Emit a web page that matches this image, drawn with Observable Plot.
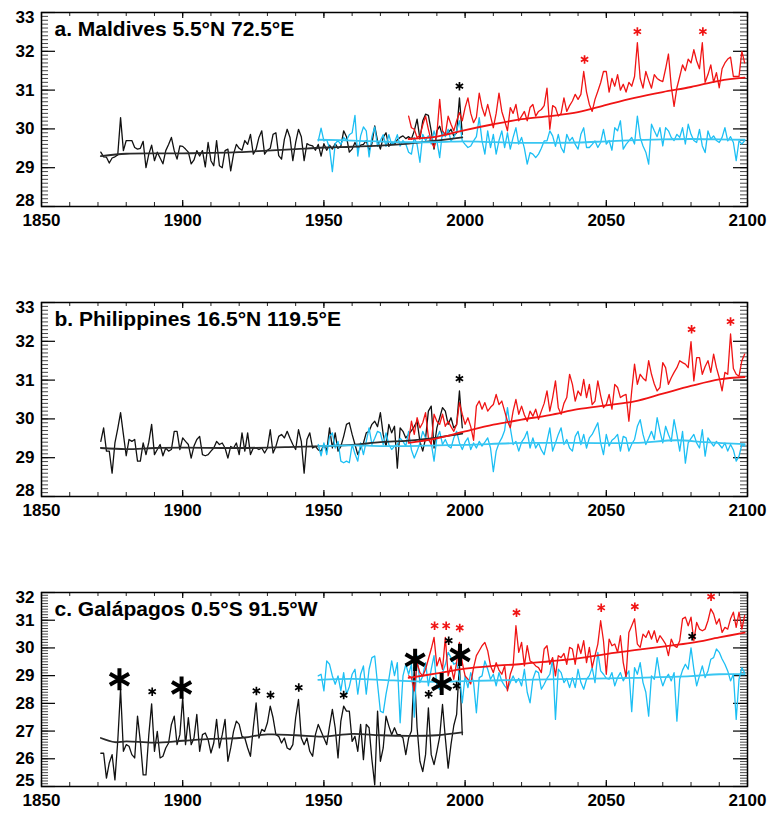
<!DOCTYPE html>
<html><head><meta charset="utf-8">
<script src="https://cdn.jsdelivr.net/npm/d3@7"></script>
<script src="https://cdn.jsdelivr.net/npm/@observablehq/plot@0.6"></script>
<style>
body{margin:0;background:#fff;}
#chart{width:779px;}
#chart svg{display:block;}
</style></head><body><div id="chart"></div>
<script>
// ---------- Panel a: Maldives ----------
const aTitle = "a. Maldives 5.5°N 72.5°E";
const aBlackStart = 1870;
const aBlack = [
 null,29.40,29.28,29.27,29.12,29.25,29.28,29.33,30.29,29.44,
 29.70,29.70,29.70,29.52,29.48,29.50,29.68,29.00,29.35,29.58,
 29.18,29.40,29.25,29.10,29.44,29.60,29.78,29.44,29.22,29.56,
 29.55,29.48,29.40,29.10,29.20,29.44,29.30,29.44,29.02,29.65,
 29.18,29.05,29.70,29.05,29.00,29.44,29.48,28.92,29.35,29.60,
 29.50,29.45,29.70,29.60,29.86,29.35,29.48,29.78,29.95,29.35,
 29.45,29.50,29.86,29.90,29.31,29.22,29.73,29.99,29.78,29.18,
 29.65,29.99,29.80,29.18,29.62,29.58,29.56,29.45,29.60,29.30,
 29.62,29.45,29.58,29.48,29.62,29.50,29.55,29.95,29.80,29.40,
 29.48,29.65,29.50,29.58,29.60,29.70,29.45,29.62,30.08,29.69,
 29.48,29.78,29.90,29.55,29.65,29.60,29.72,29.78,29.82,29.75,
 29.80,29.74,29.95,30.25,29.74,30.21,30.38,30.35,29.95,29.48,
 29.95,30.07,29.82,29.86,29.90,29.99,29.82,29.90,30.80,29.86];
const aCyanStart = 1940;
const aCyan = [
 null,null,null,null,null,null,null,null,29.69,30.02,
 29.69,29.72,29.50,28.90,29.62,29.70,29.60,29.78,29.70,29.85,
 29.90,30.35,29.30,29.82,30.05,29.95,29.28,29.80,30.05,29.55,
 29.70,29.85,29.55,29.85,29.60,29.65,29.85,29.56,29.70,29.61,
 29.40,29.35,29.78,29.60,29.14,29.86,29.70,29.82,29.61,29.95,
 29.69,29.26,29.95,29.80,29.99,29.69,29.78,29.95,30.21,29.69,
 29.60,29.52,29.56,29.69,29.80,30.29,29.69,29.35,29.95,29.52,
 29.86,29.35,29.70,29.95,29.52,29.90,29.48,29.78,30.03,29.61,
 29.78,29.50,29.09,29.39,29.35,29.26,29.35,29.50,29.69,29.69,
 29.95,29.82,29.55,29.86,29.52,29.39,29.86,29.69,29.78,29.60,
 29.48,29.86,30.03,29.52,29.52,29.60,29.69,29.52,29.65,29.99,
 29.61,29.70,29.45,30.03,29.95,30.21,29.48,29.60,29.69,29.78,
 29.61,30.33,29.78,29.56,29.40,29.09,30.12,29.95,29.80,30.03,
 29.56,30.03,29.95,29.78,29.70,29.86,29.78,30.03,29.61,30.12,
 29.86,29.70,29.65,29.99,29.56,29.39,29.95,29.74,29.82,29.70,
 29.65,29.78,30.03,29.69,29.80,29.65,29.18,29.69,29.61,29.70];
const aRedStart = 1980;
const aRed = [
 30.33,30.03,29.99,29.78,29.82,30.10,30.33,29.99,29.69,29.52,
 29.86,30.76,29.95,29.86,30.33,30.12,29.95,30.21,30.42,30.21,
 30.55,30.80,30.40,30.16,30.30,30.92,30.55,30.33,30.63,30.33,
 30.03,30.40,30.92,30.45,30.21,29.95,30.55,30.40,30.63,30.21,
 30.33,30.45,30.21,30.55,30.63,30.33,30.45,30.50,30.60,31.05,
 29.99,30.60,30.55,30.33,30.40,30.80,30.45,30.60,30.72,30.89,
 30.76,30.89,31.48,30.95,30.63,30.45,30.76,30.97,31.19,31.48,
 31.48,30.95,31.30,31.10,31.40,31.00,31.15,30.95,31.20,31.10,
 31.35,32.22,31.30,31.05,31.48,31.25,31.05,31.40,31.30,31.25,
 31.22,31.55,31.93,31.10,30.58,31.06,31.35,31.65,31.50,31.80,
 31.70,32.04,31.75,31.55,32.22,31.20,31.40,31.65,31.20,31.45,
 31.06,31.55,31.70,31.80,31.85,31.35,31.35,31.35,32.00,31.70];
const aBlackSmoothYears = [1871,1880,1890,1900,1910,1920,1930,1940,1950,1960,1970,1980,1990,1999];
const aBlackSmooth      = [29.30,29.36,29.37,29.37,29.38,29.40,29.44,29.48,29.52,29.54,29.57,29.62,29.70,29.78];
const aCyanSmoothYears = [1948,1960,1975,1990,2000,2010,2020,2030,2040,2050,2060,2070,2080,2090,2099];
const aCyanSmooth      = [29.72,29.70,29.66,29.66,29.68,29.66,29.64,29.64,29.65,29.68,29.71,29.73,29.74,29.73,29.72];
const aRedSmoothYears = [1980,1990,2000,2010,2020,2030,2040,2050,2060,2070,2080,2090,2099];
const aRedSmooth      = [29.74,29.80,29.97,30.12,30.25,30.33,30.43,30.62,30.80,30.95,31.08,31.24,31.32];
const aStarBlackYears = [1998];
const aStarBlackVals  = [31.10];
const aStarRedYears = [2042.3,2061,2084.2];
const aStarRedVals  = [31.79,32.51,32.51];

// ---------- Panel b: Philippines ----------
const bTitle = "b. Philippines 16.5°N 119.5°E";
const bBlackStart = 1870;
const bBlack = [
 null,29.42,29.77,29.17,29.17,28.60,29.38,29.75,30.16,29.60,
 29.05,29.47,29.42,29.47,28.91,28.91,29.38,29.08,29.40,29.86,
 29.08,29.21,29.34,29.05,29.25,29.17,29.21,29.68,29.68,29.21,
 29.51,29.42,29.34,28.99,29.30,29.47,29.55,29.08,29.05,29.08,
 29.17,29.25,29.42,29.34,29.38,29.25,28.99,29.29,29.25,29.38,
 29.08,29.64,29.17,29.64,29.08,29.25,29.25,29.21,29.25,29.12,
 29.25,29.72,29.12,29.29,29.55,29.60,29.51,29.68,29.50,29.34,
 29.21,29.72,29.42,28.60,29.47,29.64,29.25,29.29,29.20,29.17,
 29.34,29.17,29.77,29.25,29.64,29.17,29.29,29.55,29.86,29.90,
 29.60,29.34,29.08,29.25,29.38,29.64,29.68,29.86,29.94,29.80,
 30.16,29.60,29.29,29.86,29.64,29.81,28.73,29.77,29.68,29.51,
 29.60,29.70,29.81,29.94,29.42,29.17,29.50,30.20,30.33,29.25,
 29.77,30.03,30.29,30.20,29.86,30.03,29.77,29.85,30.72,29.77];
const bCyanStart = 1940;
const bCyan = [
 null,null,null,null,null,null,null,null,29.34,29.05,
 29.38,29.08,29.55,29.64,29.25,29.42,28.91,28.87,28.91,28.87,
 29.34,29.10,28.91,29.38,29.08,29.42,29.77,29.34,29.50,29.68,
 29.64,29.34,29.64,29.34,29.21,29.30,29.34,29.50,29.42,29.30,
 29.68,29.20,28.99,29.17,29.38,29.68,29.51,29.45,29.38,28.91,
 29.51,29.68,29.34,29.47,29.30,29.25,29.51,29.68,29.38,29.21,
 29.40,29.51,29.21,29.38,29.25,29.42,29.30,29.40,29.51,29.25,
 28.64,29.17,29.38,29.51,29.70,30.29,29.77,29.34,29.42,29.17,
 29.40,29.51,29.68,29.25,29.51,29.25,29.38,29.20,29.08,29.42,
 29.77,29.17,29.38,29.60,29.77,29.34,29.47,29.25,29.17,29.55,
 29.68,29.34,29.60,29.25,29.51,29.60,29.75,29.90,29.38,29.08,
 29.60,29.30,29.45,29.51,29.60,29.17,29.55,29.51,29.17,29.35,
 29.47,29.81,29.98,29.60,29.34,29.50,29.68,29.47,30.03,29.68,
 29.38,29.81,29.60,29.42,29.98,29.60,29.17,29.68,28.86,29.38,
 29.50,29.60,29.38,29.25,29.72,29.04,29.51,29.40,29.30,29.42,
 29.34,29.25,29.38,29.17,29.34,29.20,28.91,29.04,29.34,29.30];
const bRedStart = 1980;
const bRed = [
 29.42,29.94,29.60,30.03,29.77,29.90,30.16,29.51,29.34,30.12,
 29.94,29.86,30.12,29.81,29.94,29.80,29.68,29.86,30.42,30.12,
 29.86,30.03,29.80,29.45,30.33,30.46,30.25,30.42,30.20,30.30,
 30.37,30.63,30.37,30.46,30.20,29.94,29.77,30.20,30.50,30.12,
 30.33,30.10,29.94,30.20,30.07,30.25,29.99,30.20,30.40,30.72,
 30.20,30.55,30.98,30.29,30.12,30.40,30.55,31.15,30.89,30.46,
 30.72,30.60,31.02,30.55,30.89,30.37,30.46,30.98,30.60,30.29,
 30.37,30.63,30.25,30.89,30.81,30.55,30.60,30.63,29.94,30.72,
 31.41,30.89,31.15,31.05,30.98,31.50,31.15,30.90,30.72,30.81,
 31.45,31.32,30.89,31.06,31.20,31.32,31.50,31.45,31.41,31.32,
 31.99,30.98,31.58,31.58,31.15,31.35,31.50,31.20,31.67,31.32,
 31.06,30.72,31.20,31.15,32.19,31.30,31.15,31.10,31.50,31.67];
const bBlackSmoothYears = [1871,1880,1890,1900,1920,1940,1950,1960,1970,1980,1990,1999];
const bBlackSmooth      = [29.25,29.22,29.25,29.26,29.25,29.28,29.30,29.33,29.40,29.44,29.52,29.62];
const bCyanSmoothYears = [1948,1960,1970,1980,1990,2000,2020,2040,2060,2075,2085,2099];
const bCyanSmooth      = [29.30,29.32,29.30,29.30,29.32,29.33,29.38,29.38,29.38,29.45,29.40,29.35];
const bRedSmoothYears = [1980,1990,2000,2010,2020,2030,2040,2050,2060,2070,2080,2090,2099];
const bRedSmooth      = [29.38,29.50,29.68,29.85,29.98,30.10,30.25,30.35,30.45,30.65,30.85,31.02,31.08];
const bStarBlackYears = [1998];
const bStarBlackVals  = [31.04];
const bStarRedYears = [2080.2,2094];
const bStarRedVals  = [32.31,32.51];

// ---------- Panel c: Galápagos ----------
const cTitle = "c. Galápagos 0.5°S 91.5°W";
const cBlackStart = 1870;
const cBlack = [
 null,26.20,26.20,25.30,25.85,26.15,25.24,26.63,28.51,26.27,
 26.51,26.45,26.15,26.03,27.54,26.63,25.42,25.42,26.87,27.98,
 26.27,26.99,26.03,26.09,26.39,26.57,27.24,27.54,26.51,26.87,
 28.20,26.51,27.48,26.51,26.75,27.60,26.27,26.87,26.93,26.69,
 26.21,26.57,27.42,26.39,26.87,27.42,25.91,26.39,26.99,27.36,
 27.24,26.81,26.75,26.39,26.09,27.12,28.02,26.75,27.06,26.99,
 27.30,27.90,27.48,26.87,26.81,26.57,26.75,26.39,26.33,26.51,
 27.48,28.14,26.75,26.51,26.75,26.27,26.09,26.87,27.24,26.99,
 26.75,26.51,27.18,27.78,27.12,26.03,27.36,27.90,27.72,27.72,
 26.63,26.81,26.27,27.24,25.97,27.24,27.12,25.97,25.06,27.72,
 25.91,26.39,27.54,27.18,26.87,27.12,26.87,26.87,26.75,26.15,
 26.75,27.00,29.30,27.12,25.91,25.54,26.15,27.84,26.15,25.79,
 26.27,26.80,27.96,26.75,25.66,26.51,27.20,27.60,29.45,26.87];
const cCyanStart = 1940;
const cCyan = [
 null,null,null,null,null,null,null,null,28.99,29.05,
 28.45,29.53,29.41,28.99,28.69,28.99,28.45,29.11,28.33,28.60,
 29.05,29.23,28.33,29.05,29.35,28.33,29.23,29.65,29.71,28.69,
 27.72,27.66,28.33,28.87,29.53,29.00,29.47,27.30,28.99,29.41,
 29.05,29.41,27.50,29.72,28.75,28.99,29.47,28.63,29.23,29.72,
 28.63,28.51,29.11,29.40,29.84,29.65,29.41,29.47,29.00,28.02,
 28.99,28.57,29.11,28.75,27.66,28.93,28.99,29.53,29.23,28.87,
 29.05,28.63,29.11,28.80,28.63,28.51,28.75,28.99,28.75,28.90,
 28.63,29.23,28.40,28.02,28.87,29.17,29.11,28.51,28.69,28.90,
 29.05,29.59,27.42,29.23,29.11,28.75,28.90,28.57,28.93,28.57,
 29.23,28.75,28.51,28.87,29.00,29.29,28.75,29.84,29.17,29.05,
 28.90,28.87,29.11,28.63,28.93,29.11,28.81,29.00,29.17,27.70,
 29.29,29.05,29.47,28.75,28.40,27.54,28.99,28.87,29.65,28.99,
 28.63,28.90,29.05,28.81,29.11,27.36,28.87,29.20,29.41,29.23,
 30.00,29.23,28.63,29.00,29.35,28.93,29.17,29.59,29.65,29.96,
 29.84,29.60,29.41,29.17,28.81,29.05,27.42,28.87,29.29,29.10];
const cRedStart = 1980;
const cRed = [
 28.99,28.93,28.45,29.47,29.11,28.99,29.23,29.60,29.96,30.38,
 29.35,29.65,29.23,30.38,28.99,29.35,28.87,29.47,30.20,29.47,
 28.99,28.87,28.70,29.29,29.72,29.90,30.08,30.20,29.90,29.35,
 29.11,29.47,29.20,29.05,29.35,28.45,29.05,29.35,30.80,29.84,
 30.20,29.35,30.08,29.53,29.47,29.35,29.29,29.11,29.96,30.08,
 29.41,29.65,28.99,29.72,29.65,29.80,29.41,30.02,29.96,29.41,
 30.14,29.80,30.26,29.47,30.02,29.29,29.72,30.14,30.98,30.26,
 29.05,30.32,30.08,30.14,29.84,30.44,29.47,28.95,30.56,30.80,
 31.05,30.14,30.02,30.50,30.38,30.62,30.32,30.62,30.20,30.44,
 30.30,30.14,29.72,30.32,30.08,30.02,30.26,31.05,31.11,30.80,
 31.11,30.26,30.92,30.68,30.62,30.68,30.98,31.41,31.23,30.86,
 31.05,30.56,30.74,30.68,31.05,31.29,30.74,31.29,30.68,31.17];
const cBlackSmoothYears = [1871,1876,1880,1890,1900,1910,1920,1930,1940,1950,1960,1970,1980,1990,1999];
const cBlackSmooth      = [26.75,26.60,26.63,26.58,26.65,26.72,26.75,26.88,26.85,26.80,26.90,26.85,26.83,26.85,26.95];
const cCyanSmoothYears = [1948,1960,1970,1980,1990,2000,2020,2040,2060,2080,2090,2099];
const cCyanSmooth      = [28.85,28.88,28.85,28.80,28.78,28.80,28.85,28.88,28.92,28.98,29.05,29.05];
const cRedSmoothYears = [1980,1990,2000,2010,2020,2030,2040,2050,2060,2070,2080,2090,2099];
const cRedSmooth      = [28.92,29.08,29.25,29.35,29.42,29.52,29.62,29.78,29.92,30.05,30.18,30.38,30.55];
const cStarBigYears = [1877.6,1899.6,1982.3,1991.7,1998.2];
const cStarBigVals  = [28.87,28.57,29.57,28.70,29.75];
const cStarBlackYears = [1889.2,1926.1,1931.1,1941.1,1957.0,1987.1,1994.2,1997.0,2080.4];
const cStarBlackVals  = [28.42,28.45,28.30,28.57,28.30,28.33,30.26,28.63,30.42];
const cStarRedYears = [1989.2,1993.3,1998.1,2018.2,2048.2,2060.1,2087.1];
const cStarRedVals  = [30.80,30.80,30.72,31.27,31.45,31.49,31.85];

// ---------- helpers ----------
const RED = "#f01414", CYAN = "#1cbff4", CYAN_S = "#38c6f2", BLACK = "#111", BLACK_S = "#2a2a2a";
function yearly(start, vals) {
  const out = [];
  vals.forEach((v, i) => { if (v != null) out.push({year: start + i, v}); });
  return out;
}
function pairs(years, vals) { return years.map((y, i) => ({year: y, v: vals[i]})); }

const W = 779, ML = 41, MR = 32, MT = 12, FH = 194;
function panel(o) {
  const [y0, y1] = o.ydom;
  const pxY = FH / (y1 - y0);
  const pxX = (W - ML - MR) / 250;
  const xMinor = d3.range(1850, 2101, 10);
  const xMajor = d3.range(1850, 2101, 50);
  const yMinor = d3.range(Math.round(y0 * 10), Math.round(y1 * 10) + 1).map(d => d / 10);
  const yMajor = d3.range(y0, y1 + 1);
  const yMid = yMajor.slice(1, -1);
  const star = (ys, vs, color, r, sw) => Plot.dot(pairs(ys, vs), {x: "year", y: "v", symbol: "asterisk", r, stroke: color, strokeWidth: sw});
  return Plot.plot({
    width: W, height: o.height,
    marginLeft: ML, marginRight: MR, marginTop: MT, marginBottom: o.height - MT - FH,
    x: {domain: [1850, 2100], label: null, axis: null},
    y: {domain: [y0, y1], label: null, axis: null},
    style: {fontFamily: "'Liberation Sans', Arial, sans-serif", fontSize: "17px", fontWeight: "bold", color: "#000", background: "#fff"},
    marks: [
      // inward ticks (x: bottom & top; y: left & right)
      Plot.ruleX(xMinor, {x: d => d, y1: y0, y2: y0 + 4 / pxY, stroke: "#222", strokeWidth: 1}),
      Plot.ruleX(xMinor, {x: d => d, y1: y1, y2: y1 - 4 / pxY, stroke: "#222", strokeWidth: 1}),
      Plot.ruleX(xMajor, {x: d => d, y1: y0, y2: y0 + 6 / pxY, stroke: "#000", strokeWidth: 1.2}),
      Plot.ruleX(xMajor, {x: d => d, y1: y1, y2: y1 - 6 / pxY, stroke: "#000", strokeWidth: 1.2}),
      Plot.ruleY(yMinor, {y: d => d, x1: 1850, x2: 1850 + 7 / pxX, stroke: "#333", strokeWidth: 0.9}),
      Plot.ruleY(yMinor, {y: d => d, x1: 2100, x2: 2100 - 7 / pxX, stroke: "#333", strokeWidth: 0.9}),
      Plot.ruleY(yMajor, {y: d => d, x1: 1850, x2: 1850 + 14 / pxX, stroke: "#000", strokeWidth: 1.2}),
      Plot.ruleY(yMajor, {y: d => d, x1: 2100, x2: 2100 - 14 / pxX, stroke: "#000", strokeWidth: 1.2}),
      // annual series
      Plot.line(yearly(o.blackStart, o.black), {x: "year", y: "v", stroke: BLACK, strokeWidth: 1.3}),
      Plot.line(yearly(o.cyanStart, o.cyan), {x: "year", y: "v", stroke: CYAN, strokeWidth: 1.3}),
      Plot.line(yearly(o.redStart, o.red), {x: "year", y: "v", stroke: RED, strokeWidth: 1.3}),
      // smoothed trends
      Plot.line(pairs(o.bsY, o.bs), {x: "year", y: "v", stroke: BLACK_S, strokeWidth: 1.8, curve: "catmull-rom"}),
      Plot.line(pairs(o.csY, o.cs), {x: "year", y: "v", stroke: CYAN_S, strokeWidth: 1.8, curve: "catmull-rom"}),
      Plot.line(pairs(o.rsY, o.rs), {x: "year", y: "v", stroke: RED, strokeWidth: 1.8, curve: "catmull-rom"}),
      // asterisks
      ...(o.bigY ? [star(o.bigY, o.bigV, "#000", 10.5, 4)] : []),
      star(o.sbY, o.sbV, "#000", 4, 1.7),
      star(o.srY, o.srV, RED, 4, 1.7),
      Plot.frame({stroke: "#000", strokeWidth: 1.5}),
      // tick labels
      Plot.text(xMajor, {x: d => d, frameAnchor: "bottom", lineAnchor: "top", dy: 7, text: d => String(d), fill: "#000"}),
      Plot.text(yMid, {y: d => d, frameAnchor: "left", textAnchor: "end", dx: -7, text: d => String(d), fill: "#000"}),
      Plot.text([y1], {y: d => d, frameAnchor: "left", textAnchor: "end", dx: -7, dy: 5, text: d => String(d), fill: "#000"}),
      Plot.text([y0], {y: d => d, frameAnchor: "left", textAnchor: "end", dx: -7, dy: -6, text: d => String(d), fill: "#000"}),
      // panel title
      Plot.text([o.title], {frameAnchor: "top-left", dx: 13, dy: 9, textAnchor: "start", lineAnchor: "top", fontSize: 21, fontWeight: "bold", fill: "#000", text: d => d})
    ]
  });
}

const chart = document.getElementById("chart");
chart.appendChild(panel({title: aTitle, ydom: [28, 33], height: 290,
  blackStart: aBlackStart, black: aBlack, cyanStart: aCyanStart, cyan: aCyan, redStart: aRedStart, red: aRed,
  bsY: aBlackSmoothYears, bs: aBlackSmooth, csY: aCyanSmoothYears, cs: aCyanSmooth, rsY: aRedSmoothYears, rs: aRedSmooth,
  sbY: aStarBlackYears, sbV: aStarBlackVals, srY: aStarRedYears, srV: aStarRedVals}));
chart.appendChild(panel({title: bTitle, ydom: [28, 33], height: 290,
  blackStart: bBlackStart, black: bBlack, cyanStart: bCyanStart, cyan: bCyan, redStart: bRedStart, red: bRed,
  bsY: bBlackSmoothYears, bs: bBlackSmooth, csY: bCyanSmoothYears, cs: bCyanSmooth, rsY: bRedSmoothYears, rs: bRedSmooth,
  sbY: bStarBlackYears, sbV: bStarBlackVals, srY: bStarRedYears, srV: bStarRedVals}));
chart.appendChild(panel({title: cTitle, ydom: [25, 32], height: 234,
  blackStart: cBlackStart, black: cBlack, cyanStart: cCyanStart, cyan: cCyan, redStart: cRedStart, red: cRed,
  bsY: cBlackSmoothYears, bs: cBlackSmooth, csY: cCyanSmoothYears, cs: cCyanSmooth, rsY: cRedSmoothYears, rs: cRedSmooth,
  bigY: cStarBigYears, bigV: cStarBigVals,
  sbY: cStarBlackYears, sbV: cStarBlackVals, srY: cStarRedYears, srV: cStarRedVals}));
</script>
</body></html>
